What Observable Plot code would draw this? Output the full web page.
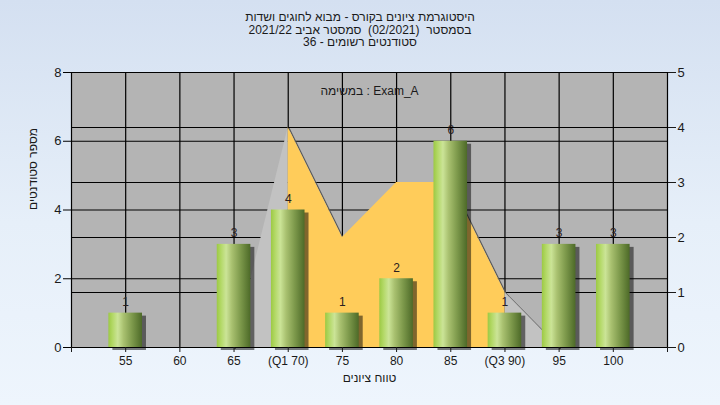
<!DOCTYPE html>
<html>
<head>
<meta charset="utf-8">
<script src="https://cdn.jsdelivr.net/npm/d3@7"></script>
<script src="https://cdn.jsdelivr.net/npm/@observablehq/plot@0.6"></script>
<style>
  html, body { margin: 0; padding: 0; width: 720px; height: 405px; overflow: hidden;
    background: linear-gradient(to bottom, #d4e0f1 0%, #e6eff9 55%, #eef5fd 100%);
    font-family: "Liberation Sans", Arial, "DejaVu Sans", sans-serif; color: #1a1a1a; }
  #title { position: relative; height: 50px; width: 720px; }
  #title div { position: absolute; left: 0; width: 720px; text-align: center; font-size: 12px; line-height: 12px; height: 12px; }
</style>
</head>
<body>
<div id="title">
  <div dir="rtl" style="top:11px">היסטוגרמת ציונים בקורס - מבוא לחוגים ושדות</div>
  <div dir="rtl" style="top:23.5px">בסמסטר&nbsp; (02/2021)&nbsp; סמסטר אביב 2021/22</div>
  <div dir="rtl" style="top:36px">סטודנטים רשומים - 36</div>
</div>
<div id="chart"></div>
<script>
// ---- data ----
const scores = [55, 60, 65, 70, 75, 80, 85, 90, 95, 100];
const counts = [1, 0, 3, 4, 1, 2, 6, 1, 3, 3];
const tickLabels = ["55", "60", "65", "(Q1 70)", "75", "80", "85", "(Q3 90)", "95", "100"];
const distScores = [65, 70, 75, 80, 85, 90, 95];
const distValues = [0, 4, 2, 3, 3, 1, 0];
const q1 = 70, q3 = 90;
const leftTicks = [0, 2, 4, 6, 8];
const rightTicks = [0, 1, 2, 3, 4, 5];
const xDomain = [50, 105];
const leftMax = 8, rightMax = 5;
const legendText = "במשימה : Exam_A";
const yTitle = "מספר סטודנטים";
const xTitle = "טווח ציונים";

// ---- derived ----
const toLeft = v => v * leftMax / rightMax;
const halfBar = 1.55;
const bars = scores.map((s, i) => ({score: s, count: counts[i]})).filter(d => d.count > 0);
const dist = distScores.map((s, i) => ({score: s, v: toLeft(distValues[i])}));
const inner = dist.filter(d => d.score >= q1 && d.score <= q3);
const lower = dist.filter(d => d.score <= q1);
const upper = dist.filter(d => d.score >= q3);
const rightTicksL = rightTicks.map(toLeft);
const labelMap = new Map(scores.map((s, i) => [s, tickLabels[i]]));

const chart = Plot.plot({
  width: 720,
  height: 355,
  marginTop: 22,
  marginBottom: 58,
  marginLeft: 71,
  marginRight: 53,
  style: {background: "transparent", fontFamily: "Liberation Sans, Arial, sans-serif", fontSize: "12px", color: "#1a1a1a", overflow: "visible"},
  x: {domain: xDomain, axis: null},
  y: {domain: [0, leftMax], axis: null},
  marks: [
    Plot.frame({fill: "#b4b4b4", stroke: null}),
    Plot.ruleY(leftTicks, {stroke: "#000", strokeWidth: 1.2}),
    Plot.ruleY(rightTicksL, {stroke: "#000", strokeWidth: 1.2}),
    Plot.ruleX(scores, {stroke: "#000", strokeWidth: 1.2}),
    Plot.line(dist, {x: "score", y: "v", stroke: "#5a5a5a", strokeWidth: 1.2, dx: 1, dy: 1}),
    Plot.areaY(lower, {x: "score", y: "v", fill: "#c2c2c2"}),
    Plot.areaY(upper, {x: "score", y: "v", fill: "#c2c2c2"}),
    Plot.areaY(inner, {x: "score", y: "v", fill: "#ffcc5a"}),
    Plot.rectY(bars, {x1: d => d.score - halfBar, x2: d => d.score + halfBar, y: "count", fill: "#000", fillOpacity: 0.5, dx: 4, dy: 3, ariaLabel: "bar-shadow"}),
    Plot.rectY(bars, {x1: d => d.score - halfBar, x2: d => d.score + halfBar, y: "count", fill: "url(#barGrad)", ariaLabel: "bars"}),
    Plot.text(bars, {x: "score", y: "count", text: d => String(d.count), dy: -11, fontSize: 12, fill: "#2a2020"}),
    Plot.ruleX([xDomain[0]], {stroke: "#000", strokeWidth: 1.2}),
    Plot.ruleX([xDomain[1]], {stroke: "#000", strokeWidth: 1.2}),
    Plot.ruleY([0], {stroke: "#000", strokeWidth: 1.2}),
    Plot.axisY({anchor: "left", ticks: leftTicks, tickSize: 8, tickPadding: 2, fontSize: 13, label: null, stroke: "#000"}),
    Plot.axisY({anchor: "right", ticks: rightTicksL, tickFormat: d => String(Math.round(d * rightMax / leftMax)), tickSize: 8, tickPadding: 2, fontSize: 13, label: null}),
    Plot.axisX({ticks: scores, tickFormat: d => labelMap.get(d), tickSize: 5, tickPadding: 4, fontSize: 12, label: null}),
    Plot.axisX({ticks: xDomain, tickFormat: () => "", tickSize: 5, label: null}),
    Plot.text([legendText], {frameAnchor: "top", dy: 14, fontSize: 12, fill: "#1a1a1a"}),
    Plot.text([yTitle], {frameAnchor: "left", dx: -38, rotate: -90, fontSize: 12, fill: "#1a1a1a"}),
    Plot.text([xTitle], {frameAnchor: "bottom", dy: 34, fontSize: 12, fill: "#1a1a1a"})
  ]
});

const svg = d3.select(chart);
const defs = svg.insert("defs", ":first-child");
const grad = defs.append("linearGradient").attr("id", "barGrad").attr("x1", "0").attr("x2", "1").attr("y1", "0").attr("y2", "0");
[["0%", "#9cc944"], ["12%", "#b2d865"], ["28%", "#cbe497"], ["45%", "#a9c170"], ["70%", "#7e9a4c"], ["100%", "#4d6a28"]]
  .forEach(([o, c]) => grad.append("stop").attr("offset", o).attr("stop-color", c));
const f = defs.append("filter").attr("id", "shadowBlur").attr("x", "-50%").attr("y", "-50%").attr("width", "200%").attr("height", "200%");
f.append("feGaussianBlur").attr("stdDeviation", 2.2);
svg.select('g[aria-label="bar-shadow"]').attr("filter", "url(#shadowBlur)");

document.getElementById("chart").appendChild(chart);
</script>
</body>
</html>
